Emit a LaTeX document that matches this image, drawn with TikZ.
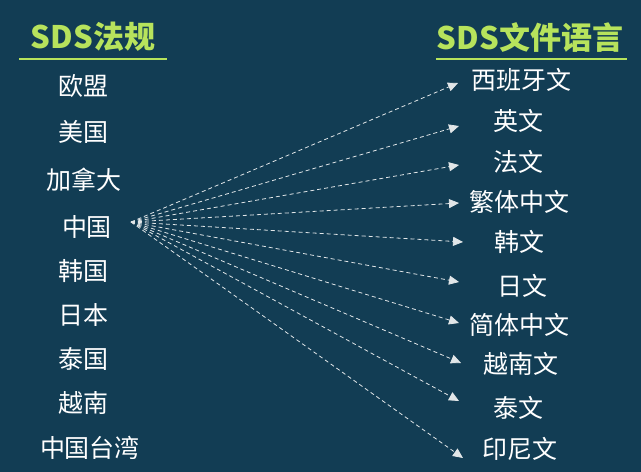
\documentclass[tikz,border=0pt]{standalone}
\usepackage{fontspec}
\setmainfont{Noto Sans CJK SC}
\usetikzlibrary{arrows.meta}
\definecolor{bg}{RGB}{18,61,84}
\definecolor{ttl}{RGB}{183,227,92}
\definecolor{ln}{RGB}{225,230,232}
\begin{document}
\begin{tikzpicture}[x=1pt,y=-1pt,
  title/.style={text=ttl,font=\fontsize{31}{34}\selectfont\bfseries,inner sep=0pt},
  item/.style={text=white,font=\fontsize{25}{28}\selectfont,inner sep=0pt},
  rule/.style={draw=ttl,line width=2pt},
  link/.style={draw=ln,line width=0.8pt,dash pattern=on 4pt off 3pt,-{Triangle[length=10pt,width=9pt]}}]
\fill[bg] (0,0) rectangle (641,472);
\useasboundingbox (0,0) rectangle (641,472);
% titles
\node[title] (tl) at (93,37) {SDS法规};
\node[title] (tr) at (530,37) {SDS文件语言};
\coordinate (l1) at (19,59); \coordinate (l2) at (167,59);
\coordinate (r1) at (436,59); \coordinate (r2) at (627,59);
\draw[rule] (l1) -- (l2);
\draw[rule] (r1) -- (r2);
% left items
\node[item] (eu) at (84,86) {欧盟};
\node[item] (us) at (84,132) {美国};
\node[item] (ca) at (84,180) {加拿大};
\node[item] (cn) at (87,227) {中国};
\node[item] (kr) at (84,271) {韩国};
\node[item] (jp) at (84,315) {日本};
\node[item] (th) at (84,359) {泰国};
\node[item] (vn) at (84,403) {越南};
\node[item] (tw) at (90,448) {中国台湾};
% right items
\node[item] (es) at (521,80) {西班牙文};
\node[item] (en) at (518,121) {英文};
\node[item] (fr) at (518,162) {法文};
\node[item] (zht) at (519,202) {繁体中文};
\node[item] (ko) at (519,242) {韩文};
\node[item] (ja) at (522,286) {日文};
\node[item] (zhs) at (519,325) {简体中文};
\node[item] (vi) at (521,364) {越南文};
\node[item] (thl) at (518,408) {泰文};
\node[item] (id) at (520,449) {印尼文};
% arrows
\coordinate (o) at (131,222);
\coordinate (t1) at (458,83);
\coordinate (t2) at (459,126);
\coordinate (t3) at (459,165);
\coordinate (t4) at (459,203);
\coordinate (t5) at (463,242);
\coordinate (t6) at (459,282);
\coordinate (t7) at (459,323);
\coordinate (t8) at (461,363);
\coordinate (t9) at (459,401);
\coordinate (t10) at (463,458);
\foreach \t in {t1,t2,t3,t4,t5,t6,t7,t8,t9,t10}
  \draw[link] (o) -- (\t);
\end{tikzpicture}
\end{document}
